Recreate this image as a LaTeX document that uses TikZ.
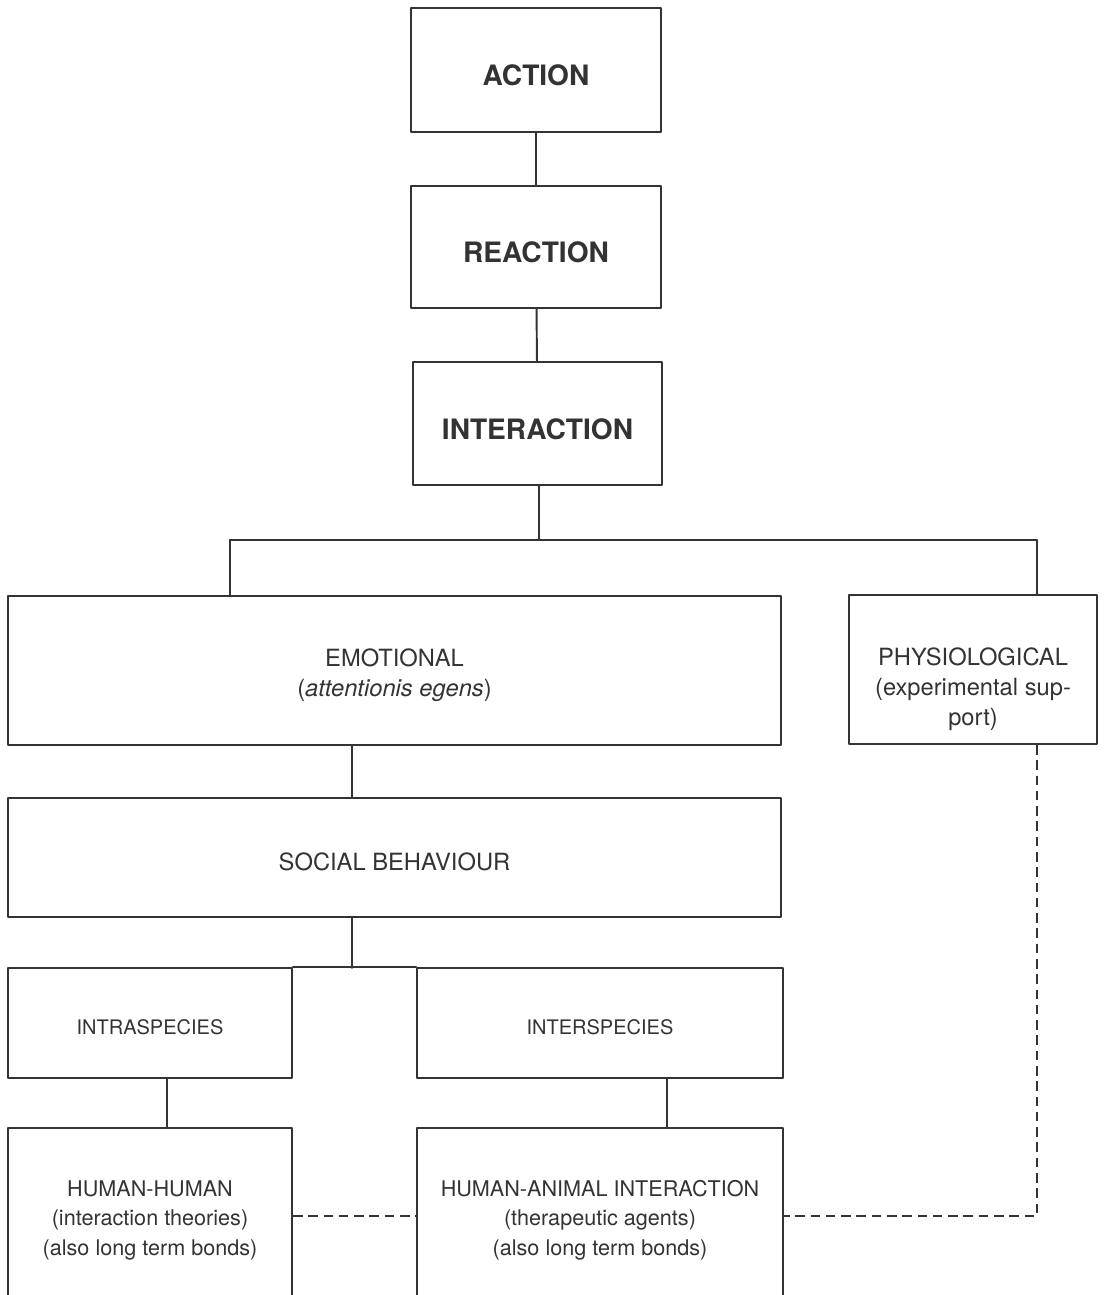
\documentclass[tikz,border=0pt]{standalone}
\usepackage{fontspec}
\setmainfont{TeX Gyre Heros}
\newcommand\capgap{\rule{0pt}{1.13em}}
\begin{document}
\begin{tikzpicture}[x=0.02cm, y=-0.02cm, line join=round, line cap=round,
		every node/.style={text=black!80},
		box/.style={draw=black!80, line width=1.1pt, inner sep=0pt, align=center, execute at begin node=\capgap},
		head/.style={box, font=\fontsize{16}{19}\selectfont\bfseries},
		mid/.style={box, font=\fontsize{13.5}{17}\selectfont},
		low/.style={box, font=\fontsize{12.3}{17}\selectfont},
		kind/.style={box, font=\fontsize{11.4}{17}\selectfont},
		link/.style={draw=black!80, line width=1.1pt},
		dashlink/.style={link, line width=1.3pt, line cap=butt, dash pattern=on 5.5pt off 3.2pt}]
	\def\wide{15.46cm} \def\narrow{5.68cm} \def\middle{7.32cm} % box widths
	\useasboundingbox (0,0) rectangle (1103,1295);
	\clip (0,0) rectangle (1103,1295);
	% top column
	\node[head, minimum width=5cm, minimum height=2.48cm] (action) at (536,70) {ACTION};
	\node[head, minimum width=5cm, minimum height=2.44cm] (reaction) at (536,247) {REACTION};
	\node[head, minimum width=4.98cm, minimum height=2.46cm] (interaction) at (537.5,423.5) {INTERACTION};
	% second level
	\node[mid, minimum width=\wide, minimum height=2.98cm] (emotional) at (394.5,670.5) {\capgap EMOTIONAL\\(\textit{attentionis egens})};
	\node[mid, minimum width=4.96cm, minimum height=2.98cm] (physio) at (973,669.5) {};
	\node[mid, draw=none] (physiotext) at (973,684.5) {\capgap PHYSIOLOGICAL\\(experimental sup-\\port)};
	\node[mid, minimum width=\wide, minimum height=2.38cm] (social) at (394.5,857.5) {SOCIAL BEHAVIOUR};
	% lower levels
	\node[kind, minimum width=\narrow, minimum height=2.2cm] (intra) at (150,1023) {INTRASPECIES};
	\node[kind, minimum width=\middle, minimum height=2.2cm] (inter) at (600,1023) {INTERSPECIES};
	\node[low, minimum width=\narrow, minimum height=3.52cm] (hh) at (150,1216) {\capgap HUMAN-HUMAN\\(interaction theories)\\(also long term bonds)};
	\node[low, minimum width=\middle, minimum height=3.52cm] (ha) at (600,1216) {\capgap HUMAN-ANIMAL INTERACTION\\(therapeutic agents)\\(also long term bonds)};
	% join points
	\coordinate (split) at (539,540);
	\coordinate (splitL) at (230,540);
	\coordinate (splitR) at (1037,540);
	\coordinate (fork) at (352,968);
	\coordinate (hhjoin) at (167,0);
	\coordinate (hajoin) at (667,0);
	\draw[link] (action) -- (reaction);
	\draw[link] (reaction) -- (interaction);
	\draw[link] (interaction.south -| split) -- (split);
	\draw[link] (splitL) -- (splitR);
	\draw[link] (splitL) -- (splitL |- emotional.north);
	\draw[link] (splitR) -- (splitR |- physio.north);
	\draw[link] (emotional.south -| fork) -- (social.north -| fork);
	\draw[link] (social.south -| fork) -- (fork);
	\draw[link] (intra.north east) -- (inter.north west);
	\draw[link] (intra.south -| hhjoin) -- (hh.north -| hhjoin);
	\draw[link] (inter.south -| hajoin) -- (ha.north -| hajoin);
	\draw[dashlink] (hh.east) -- (ha.west);
	\draw[dashlink] (physio.south -| splitR) |- (ha.east);
\end{tikzpicture}
\end{document}
